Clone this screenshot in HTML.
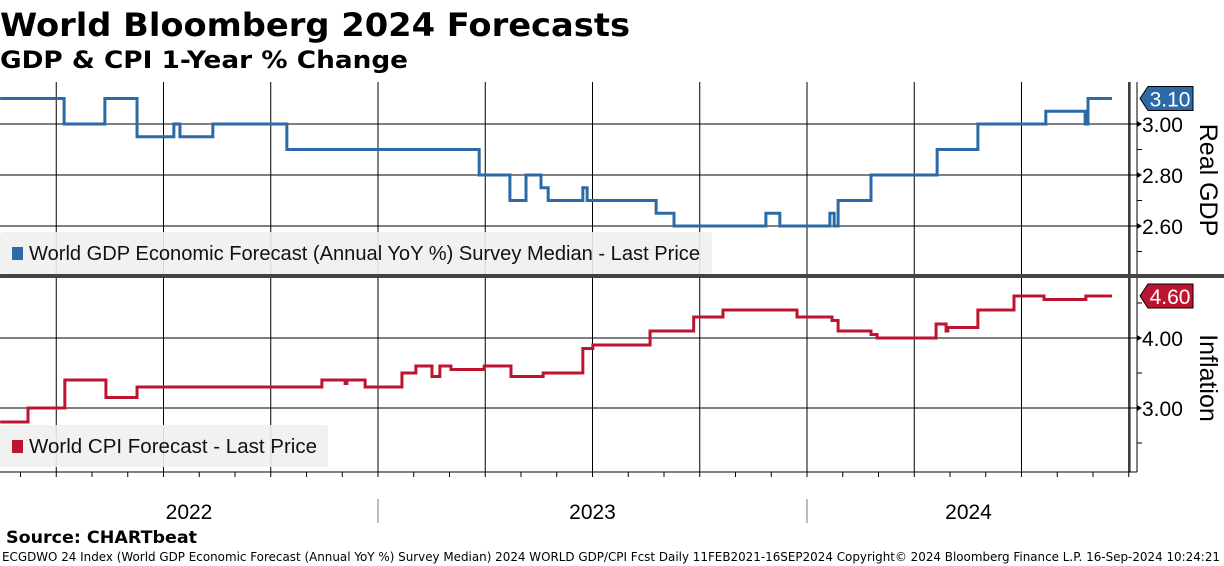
<!DOCTYPE html>
<html><head><meta charset="utf-8">
<style>
html,body{margin:0;padding:0;background:#fff;}
svg{display:block;}
</style></head>
<body>
<svg id="chart" width="1224" height="566" viewBox="0 0 1224 566" xmlns="http://www.w3.org/2000/svg">
  <text x="0" y="36" font-family="DejaVu Sans, sans-serif" font-weight="bold" font-size="32" textLength="630" lengthAdjust="spacingAndGlyphs" fill="#000">World Bloomberg 2024 Forecasts</text>
  <text x="0" y="68" font-family="DejaVu Sans, sans-serif" font-weight="bold" font-size="24" textLength="408" lengthAdjust="spacingAndGlyphs" fill="#000">GDP &amp; CPI 1-Year % Change</text>
  <g id="grid"></g>
  <g id="legends"></g>
  <g id="series"></g>
  <g id="axes"></g>
  <text x="6" y="543" font-family="DejaVu Sans, sans-serif" font-weight="bold" font-size="17" textLength="191" lengthAdjust="spacingAndGlyphs" fill="#000">Source: CHARTbeat</text>
  <text x="2" y="561" font-family="DejaVu Sans, sans-serif" font-size="12" textLength="1218" lengthAdjust="spacingAndGlyphs" fill="#000">ECGDWO 24 Index (World GDP Economic Forecast (Annual YoY %) Survey Median) 2024 WORLD GDP/CPI Fcst  Daily 11FEB2021-16SEP2024   Copyright© 2024 Bloomberg Finance L.P.   16-Sep-2024 10:24:21</text>
</svg>
<script>
// Months since Jan 2022 (fractional) at which each step begins
const gdpDates = [1.43,3.22,4.36,5.26,6.29,6.46,7.38,9.45,14.83,15.69,16.14,16.56,16.76,17.73,17.85,19.78,20.28,22.85,23.24,24.64,24.76,24.87,25.79,27.64,28.78,30.68,31.78,31.86];
const gdpValues = [3.10,3.00,3.10,2.95,3.00,2.95,3.00,2.90,2.80,2.70,2.80,2.75,2.70,2.75,2.70,2.65,2.60,2.65,2.60,2.65,2.60,2.70,2.80,2.90,3.00,3.05,3.00,3.10];
const cpiDates = [1.43,2.21,3.24,4.39,5.26,10.43,11.08,11.13,11.64,12.67,13.06,13.51,13.73,14.04,14.97,15.72,16.62,17.73,18.01,19.61,20.83,21.65,23.72,24.70,24.87,25.79,25.96,27.61,27.89,27.94,28.78,29.79,30.63,31.80];
const cpiValues = [2.8,3.0,3.4,3.15,3.3,3.4,3.35,3.4,3.3,3.5,3.6,3.45,3.6,3.55,3.6,3.45,3.5,3.85,3.9,4.1,4.3,4.4,4.3,4.25,4.1,4.05,4.0,4.2,4.1,4.15,4.4,4.6,4.55,4.6];
const endDate = 32.53;
const gdpTicks = ["2.60","2.80","3.00"];
const gdpMinor = [2.5,2.7,2.9];
const cpiTicks = ["3.00","4.00"];
const cpiMinor = [2.5,3.5,4.5];
const yearLabels = ["2022","2023","2024"];
const yearStarts = [0,12,24];
const gdpLast = "3.10";
const cpiLast = "4.60";

const NS="http://www.w3.org/2000/svg";
const svg=document.getElementById('chart');
const PLOT_R=1130, AXIS_X=1137;
const xS=m=>-51+m*35.75;
const yG=v=>124-(v-3.0)*255;
const yC=v=>338-(v-4.0)*70;
function mk(tag,attrs,parent){const e=document.createElementNS(NS,tag);for(const k in attrs)e.setAttribute(k,attrs[k]);(parent||svg).appendChild(e);return e;}
const grid=document.getElementById('grid'), axes=document.getElementById('axes'), ser=document.getElementById('series'), leg=document.getElementById('legends');

for(let q=0;q<=11;q++){
  const x=xS(q*3+3);
  if(x<0||x>PLOT_R)continue;
  const l=mk('line',{x1:x,y1:82,x2:x,y2:472,stroke:'#000','stroke-width':1},grid);
  
  
}
gdpTicks.forEach(t=>{const y=yG(parseFloat(t));
  const l=mk('line',{x1:0,y1:y,x2:AXIS_X,y2:y,stroke:'#000','stroke-width':1},grid);
  
  
  const lb=mk('text',{x:1142,y:y+8,'font-family':'Liberation Sans, sans-serif','font-size':21,fill:'#000'},axes);
  lb.textContent=t;
  
  
  mk('polygon',{points:`${AXIS_X},${y-3} ${AXIS_X+5},${y} ${AXIS_X},${y+3}`,fill:'#000'},axes);
});
gdpMinor.forEach(v=>{const y=yG(v);mk('line',{x1:AXIS_X,y1:y,x2:AXIS_X+5,y2:y,stroke:'#000'},axes);});
cpiTicks.forEach(t=>{const y=yC(parseFloat(t));
  const l=mk('line',{x1:0,y1:y,x2:AXIS_X,y2:y,stroke:'#000','stroke-width':1},grid);
  
  
  const lb=mk('text',{x:1142,y:y+8,'font-family':'Liberation Sans, sans-serif','font-size':21,fill:'#000'},axes);
  lb.textContent=t;
  
  
  mk('polygon',{points:`${AXIS_X},${y-3} ${AXIS_X+5},${y} ${AXIS_X},${y+3}`,fill:'#000'},axes);
});
cpiMinor.forEach(v=>{const y=yC(v);mk('line',{x1:AXIS_X,y1:y,x2:AXIS_X+5,y2:y,stroke:'#000'},axes);});

mk('line',{x1:PLOT_R,y1:82,x2:PLOT_R,y2:472,stroke:'#000'},axes);
mk('line',{x1:AXIS_X,y1:82,x2:AXIS_X,y2:472,stroke:'#000'},axes);
const sep=mk('rect',{x:0,y:274,width:1224,height:4,fill:'#444'},axes);


mk('line',{x1:0,y1:472,x2:AXIS_X,y2:472,stroke:'#000'},axes);
for(let m=2;m<=33;m++){const x=xS(m);if(x>PLOT_R)break;mk('line',{x1:x,y1:472,x2:x,y2:477,stroke:'#000'},axes);}
yearLabels.forEach((lab,i)=>{
  const s=Math.max(0,xS(yearStarts[i])), e=Math.min(PLOT_R,xS(yearStarts[i]+12));
  const t=mk('text',{x:(s+e)/2,y:519,'text-anchor':'middle','font-family':'Liberation Sans, sans-serif','font-size':21,fill:'#000'},axes);
  t.textContent=lab;
  
  
  if(i>0){mk('line',{x1:xS(yearStarts[i]),y1:499,x2:xS(yearStarts[i]),y2:523,stroke:'#777'},axes);}
});
const at1=mk('text',{transform:'translate(1200,180) rotate(90)','text-anchor':'middle','font-family':'Liberation Sans, sans-serif','font-size':25,fill:'#000'},axes);
at1.textContent='Real GDP';


const at2=mk('text',{transform:'translate(1200,378) rotate(90)','text-anchor':'middle','font-family':'Liberation Sans, sans-serif','font-size':25,fill:'#000'},axes);
at2.textContent='Inflation';



function legend(y,w,color,label,tl,name){
  const g=mk('g',{},leg);
  
  
  mk('rect',{x:0,y:y,width:w,height:42,rx:3,fill:'#f0f0f0','fill-opacity':0.9},g);
  mk('rect',{x:12,y:y+15,width:11,height:13,fill:color},g);
  const t=mk('text',{x:29,y:y+28,'font-family':'Liberation Sans, sans-serif','font-size':20,textLength:tl,lengthAdjust:'spacingAndGlyphs',fill:'#111'},g);
  t.textContent=label;
}
legend(232,712,'#2b6aa6','World GDP Economic Forecast (Annual YoY %) Survey Median - Last Price',671,'gdp-legend');
legend(425,328,'#bd1530','World CPI Forecast - Last Price',288,'cpi-legend');

function stepPath(dates,vals,ys){
  let d='';
  for(let i=0;i<dates.length;i++){
    const x0=Math.max(0,xS(dates[i])), x1=xS(i+1<dates.length?dates[i+1]:endDate), y=ys(vals[i]);
    d+=(i===0?`M${x0},${y}`:`L${x0},${y}`)+`L${x1},${y}`;
  }
  return d;
}
const gp=mk('path',{d:stepPath(gdpDates,gdpValues,yG),fill:'none',stroke:'#2b6aa6','stroke-width':3},ser);


const cp=mk('path',{d:stepPath(cpiDates,cpiValues,yC),fill:'none',stroke:'#bd1530','stroke-width':3},ser);



function tag(y,color,txt,name){
  const g=mk('g',{},axes);
  
  
  mk('polygon',{points:`1140,${y} 1148,${y-12} 1193,${y-12} 1193,${y+12} 1148,${y+12}`,fill:color,stroke:'#000','stroke-width':1},g);
  const t=mk('text',{x:1170,y:y+8,'text-anchor':'middle','font-family':'Liberation Sans, sans-serif','font-size':21,fill:'#fff'},g);
  t.textContent=txt;
}
tag(yG(gdpValues[gdpValues.length-1]),'#2b6aa6',gdpLast,'gdp-last-price-tag');
tag(yC(cpiValues[cpiValues.length-1]),'#bd1530',cpiLast,'cpi-last-price-tag');
</script>
</body></html>
